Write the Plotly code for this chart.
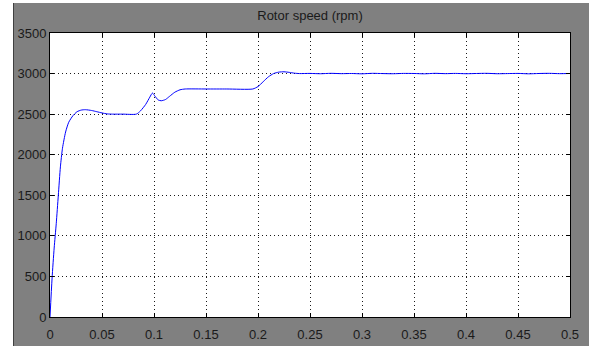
import plotly.graph_objects as go

# Time (s) and rotor speed (rpm)
time_s = [0.000, 0.002, 0.004, 0.006, 0.008, 0.010, 0.012, 0.015, 0.018, 0.022,
          0.026, 0.030, 0.034, 0.040, 0.045, 0.050, 0.055, 0.060, 0.070, 0.083,
          0.087, 0.092, 0.096, 0.0985, 0.101, 0.104, 0.107, 0.111, 0.115, 0.120,
          0.125, 0.130, 0.150, 0.170, 0.195, 0.200, 0.205, 0.210, 0.215, 0.220,
          0.225, 0.230, 0.235, 0.240, 0.250, 0.260, 0.270, 0.280, 0.290, 0.300,
          0.310, 0.320, 0.330, 0.340, 0.350, 0.360, 0.370, 0.380, 0.390, 0.400,
          0.410, 0.420, 0.430, 0.440, 0.450, 0.460, 0.470, 0.480, 0.490, 0.500]
speed_rpm = [0, 480, 850, 1150, 1500, 1850, 2080, 2280, 2400, 2480,
             2530, 2550, 2555, 2545, 2530, 2515, 2503, 2500, 2500, 2500,
             2540, 2620, 2710, 2760, 2720, 2675, 2665, 2680, 2720, 2770,
             2800, 2810, 2810, 2810, 2810, 2840, 2900, 2960, 3000, 3018,
             3022, 3015, 3005, 3000, 3002, 2998, 3003, 2999, 3001, 2997,
             3003, 3000, 2998, 3002, 3001, 2997, 3003, 2999, 3002, 2998,
             3001, 3003, 2998, 3000, 3002, 2997, 3001, 3003, 2999, 3001]

x_ticks = [0, 0.05, 0.1, 0.15, 0.2, 0.25, 0.3, 0.35, 0.4, 0.45, 0.5]
x_labels = ["0", "0.05", "0.1", "0.15", "0.2", "0.25", "0.3", "0.35", "0.4", "0.45", "0.5"]
y_ticks = [0, 500, 1000, 1500, 2000, 2500, 3000, 3500]
title_text = "Rotor speed (rpm)"

W, H = 589, 346
L, R, T, B = 50, 19, 33, 29
pw, ph = W - L - R, H - T - B

def px(x):
    return (x - L) / pw

def py(y):
    return (H - B - y) / ph

fig = go.Figure()
fig.add_trace(go.Scatter(x=time_s, y=speed_rpm, mode="lines",
                         line=dict(color="#0000ff", width=1, shape="spline", smoothing=0.6),
                         hoverinfo="skip", showlegend=False))

axis_common = dict(showline=True, mirror="ticks", linecolor="#000000", linewidth=1,
                   ticks="inside", ticklen=4, tickcolor="#000000", automargin=False,
                   showgrid=True, gridcolor="#1a1a1a", griddash="1px,3px", gridwidth=1,
                   zeroline=False, tickfont=dict(family="Liberation Sans, Arial", size=13, color="#1a1a1a"))

fig.update_xaxes(range=[0, 0.5], tickvals=x_ticks, ticktext=x_labels,
                 ticklabelstandoff=5, **axis_common)
fig.update_yaxes(range=[0, 3500], tickvals=y_ticks, ticktext=[str(v) for v in y_ticks], **axis_common)

shapes = [
    dict(type="rect", xref="paper", yref="paper", x0=px(-5), x1=px(13), y0=py(H + 5), y1=py(-5),
         fillcolor="#ffffff", line=dict(width=0), layer="above"),
    dict(type="rect", xref="paper", yref="paper", x0=px(-5), x1=px(W + 5), y0=py(3), y1=py(-5),
         fillcolor="#ffffff", line=dict(width=0), layer="above"),
    dict(type="line", xref="paper", yref="paper", x0=px(13.5), x1=px(13.5), y0=py(3), y1=py(H + 5),
         line=dict(color="#404040", width=1), layer="above"),
]

fig.update_layout(
    width=W, height=H,
    margin=dict(l=L, r=R, t=T, b=B, pad=0, autoexpand=False),
    paper_bgcolor="#808080", plot_bgcolor="#ffffff",
    shapes=shapes,
    title=dict(text=title_text, x=px(310), xref="paper", xanchor="center",
               y=1 - 15.5 / H, yanchor="middle",
               font=dict(family="Liberation Sans, Arial", size=13, color="#1a1a1a")),
)

fig.write_html("out.html", config={"displayModeBar": False},
               post_script="document.body.style.margin='0';document.body.style.overflow='hidden';")
